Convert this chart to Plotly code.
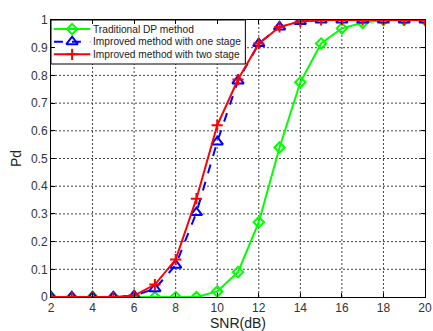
import plotly.graph_objects as go

snr = [2, 3, 4, 5, 6, 7, 8, 9, 10, 11, 12, 13, 14, 15, 16, 17, 18, 19, 20]
pd_traditional = [0, 0, 0, 0, 0, 0, 0, 0, 0.02, 0.09, 0.27, 0.54, 0.775, 0.915, 0.97, 0.99, 1, 1, 1]
pd_one_stage = [0, 0, 0, 0, 0.005, 0.03, 0.115, 0.305, 0.56, 0.78, 0.915, 0.975, 0.995, 1, 1, 1, 1, 1, 1]
pd_two_stage = [0, 0, 0, 0, 0.005, 0.045, 0.135, 0.355, 0.62, 0.785, 0.915, 0.975, 0.995, 1, 1, 1, 1, 1, 1]

names = ["Traditional DP method", "Improved method with one stage", "Improved method with two stage"]
x_ticks = [2, 4, 6, 8, 10, 12, 14, 16, 18, 20]
y_ticks = [0, 0.1, 0.2, 0.3, 0.4, 0.5, 0.6, 0.7, 0.8, 0.9, 1]

FONT = "Liberation Sans, Arial"
W, H = 433, 331
ML, MR, MT, MB = 51, 1, 20, 34
PW, PH = W - ML - MR, H - MT - MB
X0, X1 = x_ticks[0], x_ticks[-1]
Y0, Y1 = y_ticks[0], y_ticks[-1]


def px_x(p):  # pixel offset from plot left -> data x (legend layout only)
    return X0 + p / PW * (X1 - X0)


def px_y(p):  # pixel offset from plot top -> data y (legend layout only)
    return Y1 - p / PH * (Y1 - Y0)


styles = [
    dict(line=dict(color="#00ff00", width=2),
         marker=dict(symbol="diamond-open", size=8, color="#00ff00", line=dict(width=2))),
    dict(line=dict(color="#0000ff", width=2, dash="dash"),
         marker=dict(symbol="triangle-up-open", size=10, color="#0000ff", line=dict(width=2))),
    dict(line=dict(color="#ff0000", width=2),
         marker=dict(symbol="cross-thin-open", size=8, color="#ff0000", line=dict(width=2, color="#ff0000"))),
]
series = [pd_traditional, pd_one_stage, pd_two_stage]

fig = go.Figure()
for name, ys, st in zip(names, series, styles):
    fig.add_trace(go.Scatter(x=snr, y=ys, name=name, mode="lines+markers", showlegend=False, **st))

# dotted grid drawn as shapes (so the legend box can sit on top of it)
grid = dict(color="#444444", width=1, dash="2px,2px")
for xv in x_ticks[1:-1]:
    fig.add_shape(type="line", xref="x", yref="y", x0=xv, x1=xv, y0=Y0, y1=Y1, line=grid, layer="below")
for yv in y_ticks[1:-1]:
    fig.add_shape(type="line", xref="x", yref="y", x0=X0, x1=X1, y0=yv, y1=yv, line=grid, layer="below")

# manual MATLAB-style legend box
row_y = [9, 21.7, 34.3]
fig.add_shape(type="rect", xref="x", yref="y", x0=px_x(0), x1=px_x(198), y0=px_y(44), y1=px_y(0),
              fillcolor="white", line=dict(color="black", width=1), layer="below")
for name, ry, st in zip(names, row_y, styles):
    fig.add_trace(go.Scatter(x=[px_x(3), px_x(40)], y=[px_y(ry)] * 2, mode="lines",
                             showlegend=False, hoverinfo="skip", line=st["line"]))
    fig.add_trace(go.Scatter(x=[px_x(21.5)], y=[px_y(ry)], mode="markers",
                             showlegend=False, hoverinfo="skip", marker=st["marker"]))
    fig.add_annotation(x=px_x(41), y=px_y(ry), text=name, showarrow=False,
                       xanchor="left", yanchor="middle",
                       font=dict(family=FONT, size=10.2, color="#222222"))

axis_common = dict(showline=True, linecolor="black", linewidth=1, mirror="ticks",
                   ticks="inside", ticklen=4, tickcolor="black",
                   showgrid=False, zeroline=False,
                   tickfont=dict(family=FONT, size=12, color="#333333"))

fig.update_xaxes(range=[X0, X1], tickvals=x_ticks, ticktext=[str(v) for v in x_ticks],
                 ticklabeloverflow="allow",
                 title=dict(text="SNR(dB)", font=dict(family=FONT, size=14, color="#222222"), standoff=4),
                 **axis_common)
fig.update_yaxes(range=[Y0, Y1], tickvals=y_ticks, ticktext=["0"] + [f"{v:.1f}" for v in y_ticks[1:-1]] + ["1"],
                 title=dict(text="Pd", font=dict(family=FONT, size=14, color="#222222"), standoff=6),
                 **axis_common)

fig.update_layout(
    width=W, height=H,
    margin=dict(l=ML, r=MR, t=MT, b=MB),
    paper_bgcolor="white", plot_bgcolor="white",
    showlegend=False,
)

fig.write_html("out.html")
